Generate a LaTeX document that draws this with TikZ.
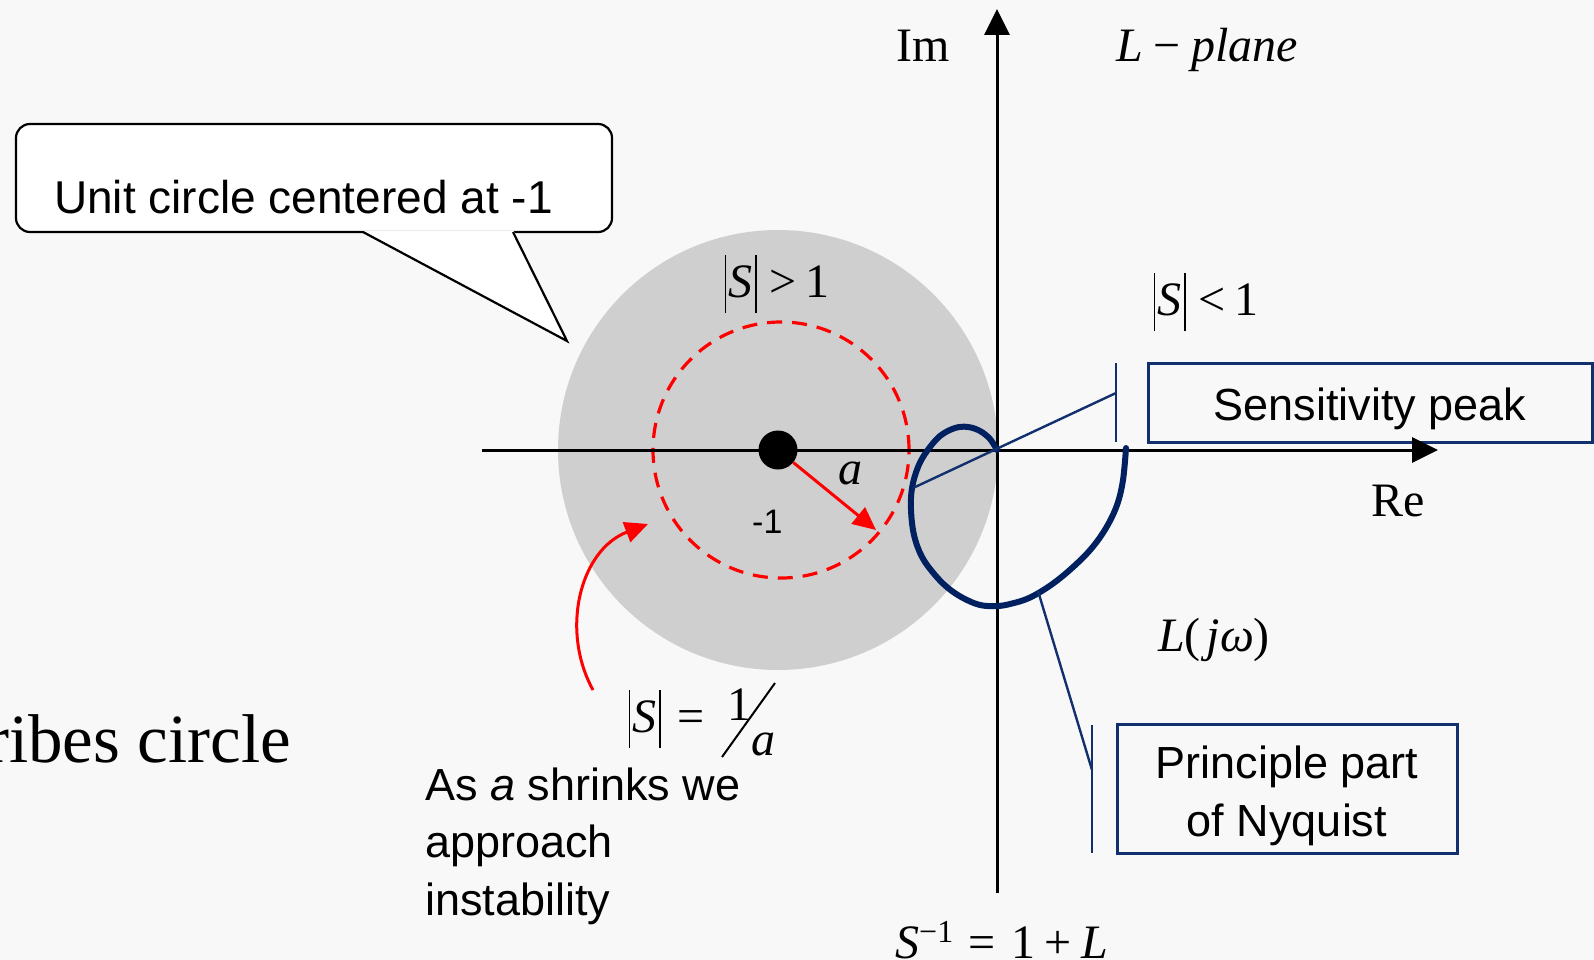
\documentclass[tikz,border=0pt]{standalone}
\usepackage{fontspec}
\setmainfont{Liberation Sans}
\newfontfamily\tms{Liberation Serif}
\usetikzlibrary{arrows.meta}
\definecolor{bg}{HTML}{F8F8F8}
\definecolor{disc}{HTML}{CFCFCF}
\definecolor{navy}{HTML}{002060}
\definecolor{boxnavy}{HTML}{12306E}
\newcommand\vbar{\hspace{0.05em}\rule[-16pt]{1.8pt}{58pt}\hspace{0.05em}}
\tikzset{
  sanslbl/.style={font=\fontsize{45}{54}\selectfont, inner sep=0pt, anchor=base west},
  seriflbl/.style={font=\tms\fontsize{48}{58}\selectfont, inner sep=0pt, anchor=base west},
  axisline/.style={line width=3pt, -{Triangle[length=26pt,width=25pt]}},
  redarrow/.style={red, line width=3pt, -{Triangle[length=23pt,width=21pt]}},
  nyq/.style={navy, line width=6pt, line cap=round, line join=round},
  ptr/.style={boxnavy, line width=2.4pt},
  tagbox/.style={draw=boxnavy, line width=3pt, inner sep=0pt},
}
\begin{document}
\begin{tikzpicture}[x=1pt,y=-1pt]
\useasboundingbox (0,0) rectangle (1594,960);
\fill[bg] (0,0) rectangle (1594,960);

% shaded unit circle and dashed circle
\fill[disc] (778,450) circle (220pt);
\draw[red, line width=3.2pt, dash pattern=on 15pt off 10pt] (781,450) circle (128pt);

% tag boxes
\node[tagbox, minimum width=444pt, minimum height=79pt] (spbox) at (1370,402.5) {};
\node[tagbox, minimum width=340pt, minimum height=129pt] (ppbox) at (1287,788.5) {};

% callout
\node[draw=black, fill=white, line width=2.2pt, rounded corners=14pt,
      minimum width=596pt, minimum height=108pt, inner sep=0pt] (callout) at (314,178) {};
\coordinate (tailL) at (363,232);
\coordinate (tailR) at (513,232);
\coordinate (tailtip) at (567,341);
\fill[white] (362.5,230.6) -- (513.5,230.6) -- (tailtip) -- cycle;
\draw[black, line width=2.2pt, line join=miter] (tailL) -- (tailtip) -- (tailR);

% axes
\coordinate (origin) at (997,450);
\coordinate (imbot) at (997,893);
\coordinate (imtop) at (997,9);
\coordinate (releft) at (482,450);
\coordinate (reright) at (1438,450);
\draw[axisline] (imbot) -- (imtop);
\draw[axisline] (releft) -- (reright);

% critical point and radius arrow
\node[circle, fill=black, minimum size=39pt, inner sep=0pt] (m1) at (778,450) {};
\coordinate (atip) at (876,530);
\draw[redarrow] (m1) -- (atip);

% curved red arrow
\coordinate (cstart) at (593,690);
\coordinate (ctip) at (648,524);
\draw[redarrow] (cstart) .. controls (560,630) and (580,550) .. (ctip);

% Nyquist curve
\coordinate (nyqstart) at (1126,448);
\draw[nyq] plot[smooth, tension=0.6] coordinates {
  (1126,448) (1123,480) (1117,505) (1106,528) (1091,549) (1072,568)
  (1051,585) (1029,598) (1010,604) (997,606) (980,605) (963,598)
  (948,588) (935,575) (922,557) (914,535) (911,510) (912,488)
  (918,467) (927,451) (940,436) (955,428) (968,427) (980,431)
  (990,439) (997,450)};

% pointer for sensitivity peak
\coordinate (spbarT) at (1116,363);
\coordinate (spbarB) at (1116,442);
\coordinate (spjoin) at (1116,393);
\coordinate (spend) at (913,488);
\draw[ptr] (spbarT) -- (spbarB);
\draw[ptr] (spjoin) -- (spend);

% pointer for principle part
\coordinate (ppbarT) at (1092,725);
\coordinate (ppbarB) at (1092,853);
\coordinate (ppjoin) at (1092,770);
\coordinate (ppend) at (1038,591);
\draw[ptr] (ppbarT) -- (ppbarB);
\draw[ptr] (ppjoin) -- (ppend);

% sans texts
\node[sanslbl, font=\fontsize{46}{55}\selectfont] (tcallout) at (54,213) {Unit circle centered at -1};
\node[sanslbl, anchor=base] (tsp) at (1370,420) {Sensitivity peak};
\node[sanslbl, anchor=base] (tpp1) at (1287,778) {Principle part};
\node[sanslbl, anchor=base] (tpp2) at (1287,836) {of Nyquist};
\node[sanslbl] (tas1) at (425,800) {As \textit{a} shrinks we};
\node[sanslbl] (tas2) at (425,857) {approach};
\node[sanslbl] (tas3) at (425,915) {instability};
\node[sanslbl, font=\fontsize{34}{40}\selectfont] (tm1) at (752,533) {-1};

% serif / math texts
\node[seriflbl] (tim) at (896,62) {Im};
\node[seriflbl] (tlp) at (1116,62) {\textit{L}\hspace{0.22em}−\hspace{0.22em}\textit{plane}};
\node[seriflbl] (tsg) at (722,297) {\vbar\textit{S}\vbar\hspace{0.2em}>\hspace{0.2em}1};
\node[seriflbl] (tsl) at (1151,315) {\vbar\textit{S}\vbar\hspace{0.2em}<\hspace{0.2em}1};
\node[seriflbl] (tre) at (1371,516) {Re};
\node[seriflbl] (tljw) at (1158,651) {\textit{L}(\hspace{0.12em}\textit{jω})};
\node[seriflbl] (ta) at (838,484) {\textit{a}};
\node[seriflbl] (tseq) at (626,732) {\vbar\textit{S}\vbar\hspace{0.3em}=};
\node[seriflbl] (tone) at (727,720) {1};
\node[seriflbl] (tfa) at (751,755) {\textit{a}};
\coordinate (slA) at (722,757);
\coordinate (slB) at (775,683);
\draw[black, line width=2pt] (slA) -- (slB);
\node[seriflbl] (tsinv) at (895,958) {\textit{S}\raisebox{16pt}{\fontsize{32}{36}\selectfont −1}\hspace{0.32em}=\hspace{0.32em}1\hspace{0.2em}+\hspace{0.2em}\textit{L}};
\node[seriflbl, font=\tms\fontsize{69}{80}\selectfont, anchor=base east] (tribes) at (291,762) {ribes circle};
\end{tikzpicture}
\end{document}
